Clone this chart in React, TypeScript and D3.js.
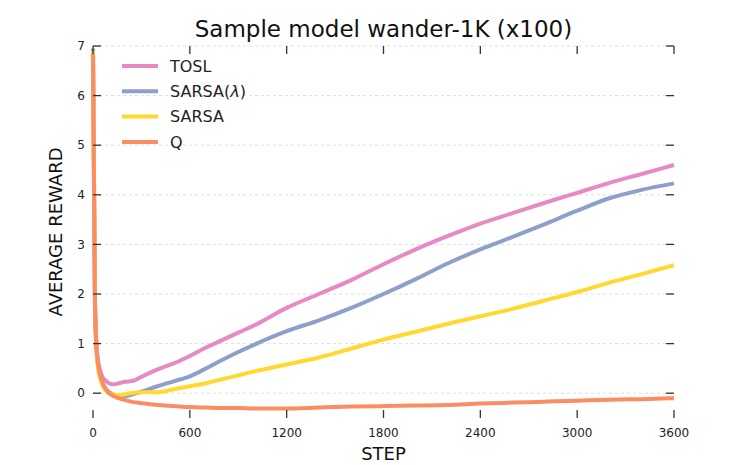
import * as d3 from "d3";

// steps at which the averaged reward was sampled
const steps = [
  0, 6, 12, 20, 30, 45, 60, 80, 100, 130, 160, 200, 250, 300, 400, 500, 600, 700,
  800, 900, 1000, 1200, 1400, 1600, 1800, 2000, 2200, 2400, 2600, 2800, 3000,
  3200, 3400, 3600,
];

const tosl = [
  6.9, 4.5, 2.0, 1.1, 0.7, 0.45, 0.32, 0.25, 0.2, 0.18, 0.2, 0.23, 0.25, 0.33,
  0.48, 0.6, 0.75, 0.92, 1.07, 1.22, 1.37, 1.72, 2.0, 2.28, 2.6, 2.9, 3.17, 3.42,
  3.63, 3.84, 4.04, 4.24, 4.42, 4.6,
];
const sarsaLambda = [
  6.95, 4.5, 1.9, 1.0, 0.6, 0.35, 0.2, 0.08, 0.02, -0.03, -0.06, -0.06, -0.02,
  0.03, 0.14, 0.24, 0.34, 0.5, 0.67, 0.83, 0.98, 1.25, 1.47, 1.72, 2.0, 2.3,
  2.62, 2.9, 3.15, 3.41, 3.68, 3.93, 4.1, 4.23,
];
const sarsa = [
  6.9, 4.5, 1.9, 1.0, 0.55, 0.3, 0.15, 0.05, 0.0, -0.03, -0.04, -0.02, 0.01,
  0.02, 0.02, 0.08, 0.14, 0.2, 0.28, 0.36, 0.44, 0.58, 0.72, 0.9, 1.08, 1.24,
  1.4, 1.55, 1.7, 1.87, 2.04, 2.23, 2.4, 2.58,
];
const qLearning = [
  6.85, 4.2, 1.8, 1.0, 0.62, 0.36, 0.2, 0.08, 0.0, -0.06, -0.1, -0.14, -0.18,
  -0.2, -0.24, -0.26, -0.28, -0.29, -0.3, -0.3, -0.31, -0.31, -0.29, -0.27,
  -0.26, -0.25, -0.24, -0.21, -0.19, -0.17, -0.15, -0.13, -0.12, -0.1,
];

const seriesNames = ["TOSL", "SARSA(", "SARSA", "Q"];
const seriesValues = [tosl, sarsaLambda, sarsa, qLearning];
const colors = ["#e78ac3", "#8da0cb", "#ffd92f", "#fc8d62"];

const xTicks = [0, 600, 1200, 1800, 2400, 3000, 3600];
const yTicks = [0, 1, 2, 3, 4, 5, 6, 7];

const W = 750;
const H = 465;
const m = { top: 46, right: 76, bottom: 47, left: 93 };

export default function App() {
  const x = d3.scaleLinear().domain([0, 3600]).range([m.left, W - m.right]);
  const y = d3.scaleLinear().domain([-0.5, 7]).range([H - m.bottom, m.top]);

  const line = d3
    .line<number>()
    .x((_, i) => x(steps[i]))
    .y((d) => y(d))
    .curve(d3.curveMonotoneX);

  const font = "DejaVu Sans, sans-serif";
  const tick = "#333";
  const x0 = x.range()[0];
  const x1 = x.range()[1];
  const yTop = y.range()[1];
  const yBot = y.range()[0];
  const cx = (x0 + x1) / 2;

  return (
    <svg
      width={W}
      height={H}
      style={{ position: "absolute", left: 0, top: 0, background: "#fff" }}
      fontFamily={font}
    >
      {/* grid */}
      {yTicks.map((t) => (
        <line
          key={"g" + t}
          x1={x0}
          x2={x1}
          y1={y(t)}
          y2={y(t)}
          stroke="#ddd"
          strokeWidth={1}
          strokeDasharray="3,3"
        />
      ))}

      {/* series */}
      {seriesValues.map((vals, i) => (
        <path
          key={seriesNames[i]}
          d={line(vals) ?? ""}
          fill="none"
          stroke={colors[i]}
          strokeWidth={4}
          strokeLinejoin="round"
        />
      ))}

      {/* y ticks, inward on both sides */}
      {yTicks.map((t) => (
        <g key={"y" + t}>
          <line x1={x0} x2={x0 + 8} y1={y(t)} y2={y(t)} stroke={tick} strokeWidth={1.3} />
          <line x1={x1 - 8} x2={x1} y1={y(t)} y2={y(t)} stroke={tick} strokeWidth={1.3} />
          <text x={x0 - 8} y={y(t)} dy="0.35em" textAnchor="end" fontSize={12} fill="#222">
            {t}
          </text>
        </g>
      ))}

      {/* x ticks, inward top and bottom */}
      {xTicks.map((t) => (
        <g key={"x" + t}>
          <line x1={x(t)} x2={x(t)} y1={yTop} y2={yTop + 8} stroke={tick} strokeWidth={1.3} />
          <line x1={x(t)} x2={x(t)} y1={yBot - 8} y2={yBot} stroke={tick} strokeWidth={1.3} />
          <text x={x(t)} y={437} textAnchor="middle" fontSize={12} fill="#222">
            {t}
          </text>
        </g>
      ))}

      {/* legend */}
      {seriesNames.map((name, i) => {
        const ly = 66 + i * 25.3;
        return (
          <g key={"l" + name}>
            <line x1={122} x2={158} y1={ly} y2={ly} stroke={colors[i]} strokeWidth={4} />
            <text x={170} y={ly} dy="0.36em" fontSize={16} fill="#222">
              {name}
              {i === 1 && (
                <>
                  <tspan fontStyle="italic">{"\u03bb"}</tspan>)
                </>
              )}
            </text>
          </g>
        );
      })}

      <text x={cx} y={37} textAnchor="middle" fontSize={23} fill="#111">
        Sample model wander-1K (x100)
      </text>
      <text x={cx} y={460} textAnchor="middle" fontSize={18} fill="#111">
        STEP
      </text>
      <text
        transform={`translate(62, ${(yTop + yBot) / 2}) rotate(-90)`}
        textAnchor="middle"
        fontSize={18}
        fill="#111"
      >
        AVERAGE REWARD
      </text>
    </svg>
  );
}
